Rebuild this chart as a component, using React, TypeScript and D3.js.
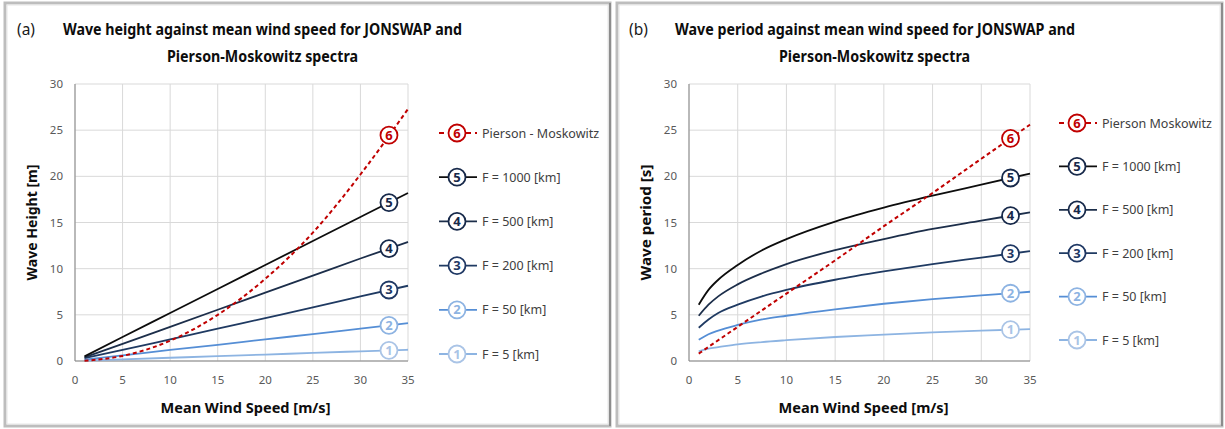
import React from "react";
import * as d3 from "d3";

// x values (mean wind speed, m/s)
const heightSpeeds = [1, 5, 10, 15, 20, 25, 30, 35];
const periodSpeeds = [1, 2, 3, 5, 7.5, 10, 15, 20, 25, 30, 35];
const pmSpeeds = [1, 5, 10, 15, 20, 25, 30, 35];

// (a) wave height [m]
const heightF5 = [0.05, 0.18, 0.35, 0.52, 0.7, 0.87, 1.05, 1.22];
const heightF50 = [0.15, 0.6, 1.2, 1.75, 2.35, 2.9, 3.5, 4.1];
const heightF200 = [0.3, 1.2, 2.35, 3.5, 4.65, 5.8, 7.0, 8.15];
const heightF500 = [0.4, 1.85, 3.7, 5.55, 7.4, 9.25, 11.1, 12.9];
const heightF1000 = [0.5, 2.6, 5.2, 7.8, 10.4, 13.0, 15.6, 18.2];
const heightPM = [0.03, 0.55, 2.2, 5.0, 8.9, 13.9, 20.2, 27.3];

// (b) wave period [s]
const periodF5 = [1.05, 1.35, 1.5, 1.8, 2.05, 2.25, 2.6, 2.85, 3.1, 3.3, 3.45];
const periodF50 = [2.3, 2.9, 3.3, 3.9, 4.5, 4.9, 5.6, 6.2, 6.7, 7.1, 7.5];
const periodF200 = [3.6, 4.5, 5.2, 6.1, 7.0, 7.7, 8.8, 9.7, 10.5, 11.2, 11.9];
const periodF500 = [4.9, 6.1, 7.0, 8.3, 9.5, 10.5, 12.0, 13.2, 14.3, 15.2, 16.1];
const periodF1000 = [6.1, 7.7, 8.8, 10.4, 12.0, 13.2, 15.1, 16.6, 17.9, 19.1, 20.3];
const periodPM = [0.8, 3.7, 7.3, 10.9, 14.6, 18.2, 21.9, 25.6];

const fetchLabels = ["F = 5 [km]", "F = 50 [km]", "F = 200 [km]", "F = 500 [km]", "F = 1000 [km]"];
const xTicks = [0, 5, 10, 15, 20, 25, 30, 35];
const yTicks = [0, 5, 10, 15, 20, 25, 30];
const markerSpeed = 33;

const FONT = "'Noto Sans', 'Open Sans', sans-serif";

const lineColors = ["#8db4e2", "#558ed5", "#1f3a62", "#1c2e4a", "#0d0d0d", "#c00000"];
const markerColors = ["#aac4e6", "#8db3e2", "#1f3864", "#17294a", "#17294a", "#c00000"];

type Series = { id: number; label: string; xs: number[]; ys: number[]; dashed?: boolean };

const heightSeries: Series[] = [
  { id: 1, label: fetchLabels[0], xs: heightSpeeds, ys: heightF5 },
  { id: 2, label: fetchLabels[1], xs: heightSpeeds, ys: heightF50 },
  { id: 3, label: fetchLabels[2], xs: heightSpeeds, ys: heightF200 },
  { id: 4, label: fetchLabels[3], xs: heightSpeeds, ys: heightF500 },
  { id: 5, label: fetchLabels[4], xs: heightSpeeds, ys: heightF1000 },
  { id: 6, label: "Pierson - Moskowitz", xs: heightSpeeds, ys: heightPM, dashed: true },
];

const periodSeries: Series[] = [
  { id: 1, label: fetchLabels[0], xs: periodSpeeds, ys: periodF5 },
  { id: 2, label: fetchLabels[1], xs: periodSpeeds, ys: periodF50 },
  { id: 3, label: fetchLabels[2], xs: periodSpeeds, ys: periodF200 },
  { id: 4, label: fetchLabels[3], xs: periodSpeeds, ys: periodF500 },
  { id: 5, label: fetchLabels[4], xs: periodSpeeds, ys: periodF1000 },
  { id: 6, label: "Pierson Moskowitz", xs: pmSpeeds, ys: periodPM, dashed: true },
];

// linear lookup along a series, for the numbered markers
const valueAt = (s: Series, x: number) => {
  const i = d3.bisectLeft(s.xs, x);
  const x0 = s.xs[i - 1], x1 = s.xs[i];
  return d3.interpolateNumber(s.ys[i - 1], s.ys[i])((x - x0) / (x1 - x0));
};

const Marker = ({ cx, cy, id }: { cx: number; cy: number; id: number }) => (
  <g>
    <circle cx={cx} cy={cy} r={8.5} fill="white" stroke={markerColors[id - 1]} strokeWidth={1.8} />
    <text x={cx} y={cy + 4.5} textAnchor="middle" fontSize={13} fontWeight="bold" fill={markerColors[id - 1]} fontFamily={FONT}>
      {id}
    </text>
  </g>
);

type PanelProps = {
  frameX: number;
  tag: string;
  title: string[];
  titleX: number[];
  titleW: number[];
  yTitle: string;
  plot: { left: number; right: number; top: number; bottom: number };
  series: Series[];
  legend: { cx: number; top: number; step: number };
};

const Panel = ({ frameX, tag, title, titleX, titleW, yTitle, plot, series, legend }: PanelProps) => {
  const x = d3.scaleLinear().domain([0, 35]).range([plot.left, plot.right]);
  const y = d3.scaleLinear().domain([0, 30]).range([plot.bottom, plot.top]);
  const line = d3
    .line<[number, number]>()
    .x((d) => x(d[0]))
    .y((d) => y(d[1]))
    .curve(d3.curveMonotoneX);
  const midX = (plot.left + plot.right) / 2;
  const midY = (plot.top + plot.bottom) / 2;
  const legendOrder = [6, 5, 4, 3, 2, 1];

  return (
    <g>
      {/* panel frame */}
      <rect x={frameX} y={3} width={605} height={423} fill="white" stroke="#bdbdbd" strokeWidth={3} />
      <rect x={frameX + 2} y={5} width={601} height={419} fill="none" stroke="#e6e6e6" strokeWidth={1} />
      <line x1={frameX + 605} x2={frameX + 605} y1={3} y2={426} stroke="#8c8c8c" strokeWidth={2} />

      <text x={frameX + 12} y={35} fontSize={15.5} fill="#1a1a1a" fontFamily={FONT}>{tag}</text>
      {title.map((t, i) => (
        <text key={i} x={titleX[i]} y={35 + i * 27} fontSize={15.5} fontWeight="bold" fill="#0d0d0d"
          fontFamily={FONT} textLength={titleW[i]} lengthAdjust="spacingAndGlyphs">
          {t}
        </text>
      ))}

      {/* grid */}
      {xTicks.map((t) => (
        <line key={"gx" + t} x1={x(t)} x2={x(t)} y1={plot.top} y2={plot.bottom} stroke="#d9d9d9" strokeWidth={1} />
      ))}
      {yTicks.map((t) => (
        <line key={"gy" + t} x1={plot.left} x2={plot.right} y1={y(t)} y2={y(t)} stroke="#d9d9d9" strokeWidth={1} />
      ))}
      <line x1={plot.left} x2={plot.left} y1={plot.top} y2={plot.bottom} stroke="#868686" strokeWidth={1} />
      <line x1={plot.left} x2={plot.right} y1={plot.bottom} y2={plot.bottom} stroke="#868686" strokeWidth={1} />

      {/* tick labels */}
      {xTicks.map((t) => (
        <text key={"tx" + t} x={x(t)} y={plot.bottom + 23} textAnchor="middle" fontSize={11.5} fill="#595959" fontFamily={FONT}>
          {t}
        </text>
      ))}
      {yTicks.map((t) => (
        <text key={"ty" + t} x={plot.left - 12} y={y(t) + 4} textAnchor="end" fontSize={11.5} fill="#595959" fontFamily={FONT}>
          {t}
        </text>
      ))}

      <text x={midX + 4} y={413} textAnchor="middle" fontSize={14} fontWeight="bold" fill="#0d0d0d" fontFamily={FONT}
        textLength={170} lengthAdjust="spacingAndGlyphs">
        Mean Wind Speed [m/s]
      </text>
      <text transform={`translate(${plot.left - 38},${midY}) rotate(-90)`} textAnchor="middle" fontSize={14}
        fontWeight="bold" fill="#0d0d0d" fontFamily={FONT} textLength={116} lengthAdjust="spacingAndGlyphs">
        {yTitle}
      </text>

      {/* curves */}
      {series.map((s) => (
        <path key={"l" + s.id} d={line(s.xs.map((v, i) => [v, s.ys[i]]) as [number, number][]) || ""}
          fill="none" stroke={lineColors[s.id - 1]} strokeWidth={s.dashed ? 2 : 1.8}
          strokeDasharray={s.dashed ? "4 3" : undefined} />
      ))}
      {series.map((s) => (
        <Marker key={"m" + s.id} cx={x(markerSpeed)} cy={y(valueAt(s, markerSpeed))} id={s.id} />
      ))}

      {/* legend */}
      {legendOrder.map((id, i) => {
        const s = series.find((d) => d.id === id)!;
        const cy = legend.top + i * legend.step;
        return (
          <g key={"lg" + id}>
            <line x1={legend.cx - 18} x2={legend.cx + 20} y1={cy} y2={cy} stroke={lineColors[id - 1]} strokeWidth={1.8}
              strokeDasharray={s.dashed ? "5 4" : undefined} />
            <Marker cx={legend.cx} cy={cy} id={id} />
            <text x={legend.cx + 25} y={cy + 4.5} fontSize={12.5} fill="#404040" fontFamily={FONT}>{s.label}</text>
          </g>
        );
      })}
    </g>
  );
};

export default function App() {
  return (
    <svg width={1225} height={429} style={{ position: "absolute", left: 0, top: 0, display: "block" }}>
      <rect width={1225} height={429} fill="white" />
      <Panel
        frameX={5}
        tag="(a)"
        title={["Wave height against mean wind speed for JONSWAP and", "Pierson-Moskowitz  spectra"]}
        titleX={[63, 167]}
        titleW={[399, 191]}
        yTitle="Wave Height [m]"
        plot={{ left: 75, right: 408, top: 84, bottom: 361 }}
        series={heightSeries}
        legend={{ cx: 457, top: 133, step: 44.2 }}
      />
      <Panel
        frameX={617}
        tag="(b)"
        title={["Wave period against mean wind speed for JONSWAP and", "Pierson-Moskowitz  spectra"]}
        titleX={[675, 779]}
        titleW={[400, 191]}
        yTitle="Wave period [s]"
        plot={{ left: 689, right: 1030, top: 84, bottom: 361 }}
        series={periodSeries}
        legend={{ cx: 1077, top: 123, step: 43.4 }}
      />
    </svg>
  );
}
